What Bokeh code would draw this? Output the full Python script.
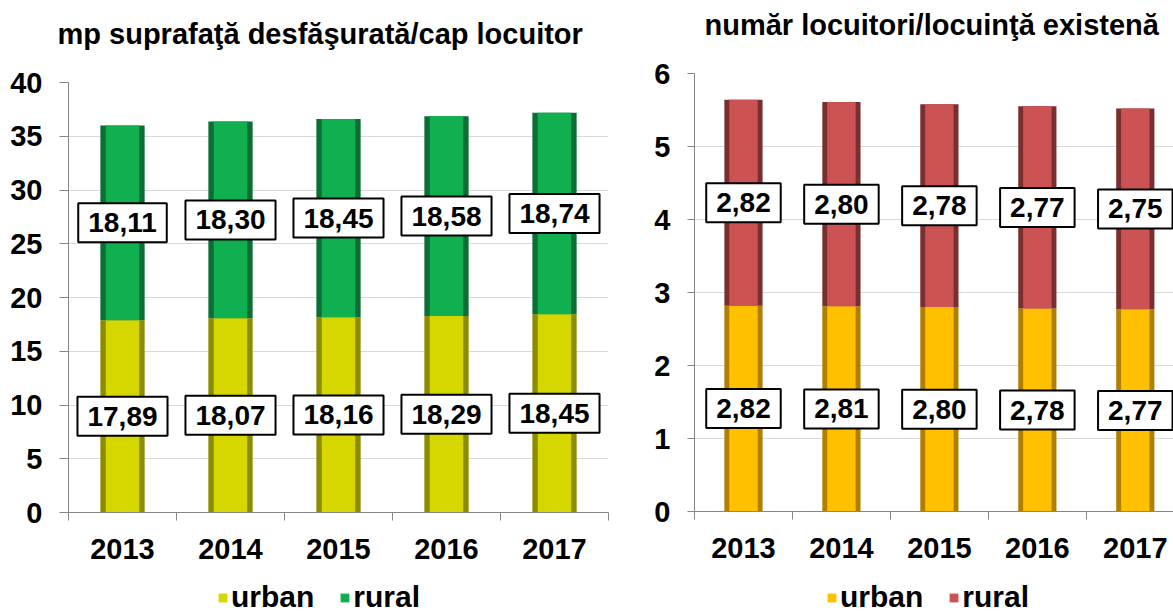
from bokeh.plotting import figure
from bokeh.models import (Range1d, FixedTicker, Legend, LegendItem, ColumnDataSource,
                          Title)
from bokeh.layouts import row, column
from bokeh.core.properties import value
from bokeh.embed import file_html
from bokeh.resources import INLINE

years = ["2013", "2014", "2015", "2016", "2017"]
left_urban = [17.89, 18.07, 18.16, 18.29, 18.45]
left_rural = [18.11, 18.30, 18.45, 18.58, 18.74]
right_urban = [2.82, 2.81, 2.80, 2.78, 2.77]
right_rural = [2.82, 2.80, 2.78, 2.77, 2.75]
left_title = "mp suprafaţă desfăşurată/cap locuitor"
right_title = "număr locuitori/locuinţă existenă"
left_ticks = [0, 5, 10, 15, 20, 25, 30, 35, 40]
right_ticks = [0, 1, 2, 3, 4, 5, 6]
series = ["urban", "rural"]

FONT = "Liberation Sans"
GREY = "#868686"
CHART_H = 578
LEG_H = 36


def fmt(v):
    return f"{v:.2f}".replace(".", ",")


def make_chart(urban, rural, ymax, yticks, title, colors, width, borders, x_end,
               title_offset, tick_out, outer_w, inner_w):
    xs = list(range(len(years)))
    src = ColumnDataSource(dict(
        x=xs, urban=urban, rural=rural,
        u_mid=[u / 2 for u in urban],
        r_mid=[u + r / 2 for u, r in zip(urban, rural)],
        u_lab=[fmt(v) for v in urban],
        r_lab=[fmt(v) for v in rural],
    ))
    left_b, right_b, top_b, bottom_b = borders
    p = figure(width=width, height=CHART_H, x_range=Range1d(-0.5, x_end),
               y_range=Range1d(0, ymax), output_backend="svg",
               toolbar_location=None, min_border_left=left_b,
               min_border_right=right_b, min_border_top=top_b,
               min_border_bottom=bottom_b)
    p.outline_line_color = None

    # spacer between frame and title, then the title itself
    p.add_layout(Title(text=" ", text_font=FONT, text_font_size="20px",
                       standoff=4), "above")
    p.add_layout(Title(text=title, text_font=FONT, text_font_size="29px",
                       text_font_style="bold", text_color="black",
                       align="left", offset=title_offset, standoff=10), "above")

    (uc, ue), (rc, re_) = colors
    p.vbar_stack(series, x="x", width=outer_w, source=src,
                 color=[ue, re_], line_width=0)
    p.vbar_stack(series, x="x", width=inner_w, source=src,
                 color=[uc, rc], line_width=0)

    for ycol, lcol in (("u_mid", "u_lab"), ("r_mid", "r_lab")):
        p.text(x="x", y=ycol, text=lcol, source=src,
               text_font=value(FONT), text_font_size="28px",
               text_font_style="bold", text_align="center",
               text_baseline="middle", text_color="black",
               background_fill_color="white", border_line_color="black",
               border_line_width=2, padding=10)

    p.xgrid.grid_line_color = None
    p.ygrid.grid_line_color = "#d9d9d9"
    p.ygrid.ticker = FixedTicker(ticks=yticks)

    ya = p.yaxis[0]
    ya.ticker = FixedTicker(ticks=yticks)
    ya.axis_line_color = GREY
    ya.major_tick_line_color = GREY
    ya.major_tick_out = tick_out
    ya.major_tick_in = 0
    ya.minor_tick_line_color = None
    ya.major_label_standoff = 17
    ya.major_label_text_font = FONT
    ya.major_label_text_font_size = "29px"
    ya.major_label_text_font_style = "bold"
    ya.major_label_text_color = "black"

    xa = p.xaxis[0]
    xa.ticker = FixedTicker(ticks=xs, minor_ticks=[x - 0.5 for x in xs] + [xs[-1] + 0.5])
    xa.major_label_overrides = {x: y for x, y in zip(xs, years)}
    xa.axis_line_color = GREY
    xa.major_tick_line_color = None
    xa.major_tick_out = 0
    xa.major_tick_in = 0
    xa.minor_tick_line_color = GREY
    xa.minor_tick_out = 8
    xa.minor_tick_in = 0
    xa.major_label_standoff = 18
    xa.major_label_text_font = FONT
    xa.major_label_text_font_size = "29px"
    xa.major_label_text_font_style = "bold"
    xa.major_label_text_color = "black"
    return p


def make_legend(colors, width, loc):
    lf = figure(width=width, height=LEG_H, x_range=Range1d(0, 1),
                y_range=Range1d(0, 1), output_backend="svg",
                toolbar_location=None, min_border=0)
    lf.axis.visible = False
    lf.grid.grid_line_color = None
    lf.outline_line_color = None
    # zero-height stack: only the legend swatches are visible
    src = ColumnDataSource(dict(x=[0.5], urban=[0], rural=[0]))
    rs = lf.vbar_stack(series, x="x", width=0.4, source=src,
                       fill_color=[c[0] for c in colors], line_color=None)
    legend = Legend(items=[LegendItem(label=s, renderers=[r]) for s, r in zip(series, rs)],
                    orientation="horizontal", location=loc,
                    border_line_color=None, background_fill_alpha=0,
                    label_text_font=FONT, label_text_font_size="30px",
                    label_text_font_style="bold", label_text_color="black",
                    glyph_width=11, glyph_height=11, label_standoff=3,
                    spacing=25, padding=0, margin=0)
    lf.add_layout(legend)
    return lf


lc = (("#d6d600", "#8c8c00"), ("#10b050", "#0b6e34"))
rc = (("#ffc000", "#b07f00"), ("#cc5353", "#7a2e2e"))
p1 = make_chart(left_urban, left_rural, 40, left_ticks, left_title, lc,
                640, (68, 32, 82, 66), 4.5, -11, 9, 0.41, 0.31)
p2 = make_chart(right_urban, right_rural, 6, right_ticks, right_title, rc,
                533, (54, 0, 73, 67), 4.39, 10, 7, 0.39, 0.29)
l1 = make_legend(lc, 640, (149, 0))
l2 = make_legend(rc, 533, (132, 0))

layout = row(column(p1, l1), column(p2, l2))
open("out.html", "w").write(file_html(layout, INLINE))
